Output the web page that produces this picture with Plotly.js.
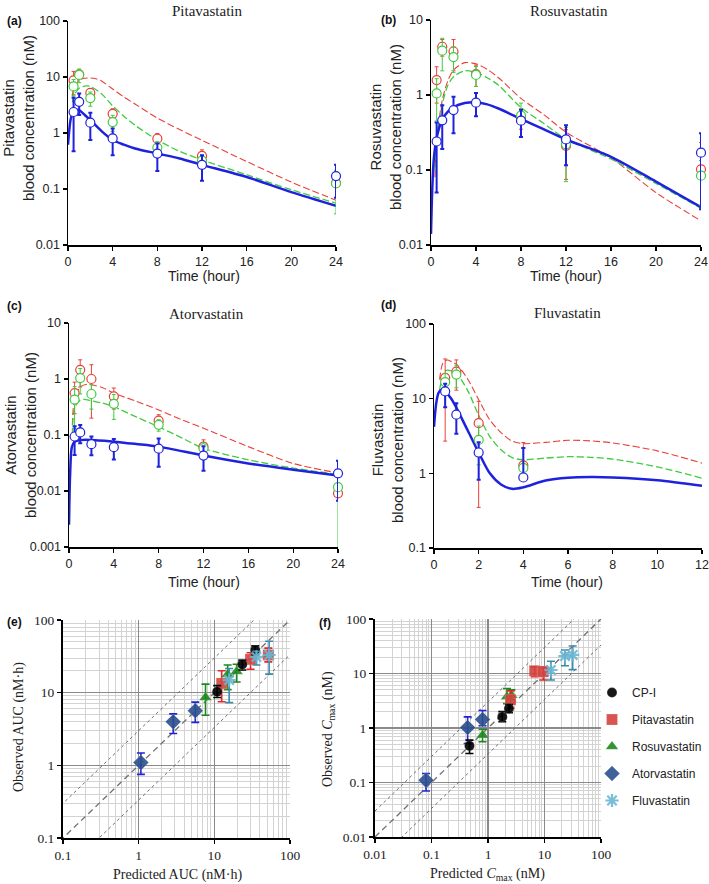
<!DOCTYPE html>
<html><head><meta charset="utf-8">
<script src="https://cdn.plot.ly/plotly-3.0.1.min.js"></script>
<style>html,body{margin:0;padding:0;background:#fff;overflow:hidden;width:709px;height:884px}#chart{width:709px;height:884px;overflow:hidden}</style>
</head><body><div id="chart"></div>
<script>
// ---------- (a) Pitavastatin ----------
const pitaT = [0.5, 1, 2, 4, 8, 12, 24];
const pitaRedObs = [8.7, 11.2, 5.2, 2.2, 0.79, 0.39, 0.128];
const pitaRedSd = [3.9, 1.6, 1.0, 0.5, 0.19, 0.11, 0];
const pitaGreenObs = [6.8, 10.9, 4.2, 1.57, 0.55, 0.32, 0.126];
const pitaGreenSd = [2.2, 3.0, 1.2, 0.5, 0.15, 0.08, 0.09];
const pitaBlueObs = [2.37, 3.6, 1.53, 0.80, 0.43, 0.27, 0.17];
const pitaBlueSd = [1.9, 1.5, 0.78, 0.4, 0.22, 0.13, 0.1];
const pitaRedCurveT = [0.4, 0.5, 1, 1.5, 2, 2.5, 3, 4, 5, 6, 8, 10, 12, 16, 20, 24];
const pitaRedCurve = [4.5, 6.3, 8.8, 9.5, 9.6, 9.3, 8.5, 6.1, 4.4, 3.3, 1.85, 1.15, 0.74, 0.31, 0.133, 0.063];
const pitaGreenCurveT = [0.4, 0.5, 1, 1.5, 2, 3, 4, 5, 6, 8, 10, 12, 16, 20, 24];
const pitaGreenCurve = [3.5, 4.5, 6.3, 6.9, 6.8, 5.0, 3.05, 2.0, 1.38, 0.75, 0.47, 0.33, 0.18, 0.097, 0.056];
const pitaBlueCurveT = [0, 0.25, 0.5, 0.75, 1, 1.5, 2, 3, 4, 5, 6, 8, 10, 12, 16, 20, 24];
const pitaBlueCurve = [0.62, 1.8, 2.45, 2.6, 2.55, 2.1, 1.7, 1.08, 0.75, 0.62, 0.53, 0.43, 0.35, 0.27, 0.164, 0.088, 0.05];

// ---------- (b) Rosuvastatin ----------
const rosuT = [0.5, 1, 2, 4, 8, 12, 24];
const rosuRedObs = [1.58, 4.4, 3.8, 1.9, 0.5, 0.21, 0.102];
const rosuRedSd = [0.8, 1.1, 1.7, 0.6, 0.15, 0.135, 0.13];
const rosuRedSdMinus = [0.8, 1.1, 1.7, 0.6, 0.15, 0.135, 0.02];
const rosuGreenObs = [1.05, 3.9, 3.2, 1.85, 0.53, 0.22, 0.084];
const rosuGreenSd = [0.6, 1.8, 1.2, 0.55, 0.25, 0.15, 0.05];
const rosuBlueObs = [0.24, 0.46, 0.63, 0.79, 0.455, 0.256, 0.17];
const rosuBlueSd = [0.19, 0.27, 0.32, 0.27, 0.18, 0.14, 0.14];
const rosuRedCurveT = [0.35, 0.5, 1, 1.5, 2, 3, 4, 5, 6, 8, 10, 12, 16, 20, 24];
const rosuRedCurve = [0.08, 0.25, 0.85, 1.55, 2.15, 2.7, 2.6, 2.2, 1.7, 0.9, 0.55, 0.32, 0.145, 0.05, 0.021];
const rosuGreenCurveT = [0.35, 0.5, 1, 1.5, 2, 3, 4, 5, 6, 8, 10, 12, 16, 20, 24];
const rosuGreenCurve = [0.1, 0.25, 0.75, 1.35, 1.75, 2.1, 2.0, 1.7, 1.35, 0.68, 0.42, 0.26, 0.14, 0.066, 0.031];
const rosuBlueCurveT = [0, 0.1, 0.25, 0.5, 1, 1.5, 2, 3, 4, 5, 6, 8, 10, 12, 16, 20, 24];
const rosuBlueCurve = [0.014, 0.05, 0.14, 0.27, 0.47, 0.6, 0.69, 0.78, 0.8, 0.75, 0.66, 0.48, 0.35, 0.255, 0.15, 0.07, 0.032];

// ---------- (c) Atorvastatin ----------
const atorT = [0.5, 1, 2, 4, 8, 12, 24];
const atorRedObs = [0.56, 1.46, 1.0, 0.49, 0.18, 0.062, 0.0091];
const atorRedSd = [0.32, 0.74, 0.8, 0.2, 0.05, 0.02, 0];
const atorGreenObs = [0.43, 1.04, 0.54, 0.36, 0.152, 0.058, 0.0117];
const atorGreenSd = [0.3, 0.5, 0.25, 0.17, 0.035, 0.015, 0.0113];
const atorGreenSdMinus = [0.3, 0.5, 0.25, 0.17, 0.035, 0.015, 0.01124];
const atorBlueObs = [0.094, 0.111, 0.0686, 0.0605, 0.057, 0.043, 0.0207];
const atorBlueSd = [0.05, 0.04, 0.025, 0.024, 0.03, 0.02, 0.014];
const atorRedCurveT = [0.3, 0.5, 1, 1.5, 2, 3, 4, 6, 8, 10, 12, 16, 20, 24];
const atorRedCurve = [0.15, 0.45, 0.72, 0.8, 0.79, 0.7, 0.56, 0.4, 0.28, 0.19, 0.132, 0.062, 0.031, 0.021];
const atorGreenCurveT = [0.3, 0.5, 1, 1.5, 2, 3, 4, 6, 8, 10, 12, 16, 20, 24];
const atorGreenCurve = [0.1, 0.3, 0.42, 0.43, 0.41, 0.37, 0.32, 0.21, 0.14, 0.09, 0.058, 0.036, 0.0257, 0.0198];
const atorBlueCurveT = [0, 0.1, 0.25, 0.5, 1, 1.5, 2, 4, 6, 8, 12, 16, 20, 24];
const atorBlueCurve = [0.0025, 0.02, 0.06, 0.076, 0.081, 0.082, 0.081, 0.076, 0.069, 0.062, 0.043, 0.031, 0.024, 0.019];

// ---------- (d) Fluvastatin ----------
const fluvT = [0.5, 1, 2, 4];
const fluvRedObs = [19, 23, 4.7, 1.28];
const fluvRedSd = [15, 10, 4.5, 1.3];
const fluvRedSdMinus = [16.3, 10, 4.35, 0];
const fluvGreenObs = [16.7, 21, 2.8, 1.18];
const fluvGreenSd = [5, 7, 1.5, 1];
const fluvGreenSdMinus = [5, 7, 1.5, 0];
const fluvBlueObs = [12.5, 6.1, 1.9, 0.88];
const fluvBlueSd = [3.3, 2.6, 0.7, 1.3];
const fluvBlueSdMinus = [4.8, 2.7, 1.08, 0];
const fluvRedCurveT = [0.25, 0.4, 0.6, 0.8, 1, 1.5, 2, 2.5, 3, 3.5, 4, 5, 6, 7, 8, 10, 12];
const fluvRedCurve = [18, 30, 33, 31, 29, 18.5, 9.7, 5.2, 3.5, 2.7, 2.5, 2.6, 2.77, 2.72, 2.55, 2.0, 1.37];
const fluvGreenCurveT = [0.25, 0.4, 0.55, 0.8, 1, 1.5, 2, 2.5, 3, 3.5, 4, 5, 6, 7, 8, 10, 12];
const fluvGreenCurve = [13, 21, 24, 23.5, 22, 13, 6.0, 3.1, 2.07, 1.62, 1.52, 1.6, 1.67, 1.64, 1.55, 1.22, 0.86];
const fluvBlueCurveT = [0, 0.1, 0.2, 0.3, 0.5, 0.75, 1, 1.5, 2, 2.5, 3, 3.5, 4, 5, 6, 7, 8, 10, 12];
const fluvBlueCurve = [4.2, 8.7, 11.9, 13.0, 12.5, 10.2, 7.6, 3.8, 1.9, 1.0, 0.71, 0.62, 0.65, 0.8, 0.87, 0.89, 0.88, 0.81, 0.68];

// ---------- (e)/(f) predicted vs observed ----------
const seriesNames = ['CP-I', 'Pitavastatin', 'Rosuvastatin', 'Atorvastatin', 'Fluvastatin'];
const aucPred = [[10.9, 23.4, 34.7], [12.5, 30.1, 51.7], [7.65, 15, 19.7], [1.07, 2.86, 5.6], [15.7, 36, 53]];
const aucObs  = [[10.3, 24.5, 38.6], [13.4, 28.7, 33], [8.6, 17.8, 19.6], [1.09, 3.97, 5.63], [14.9, 31, 33]];
const aucHi   = [[12.5, 28, 44], [20, 35.5, 41], [13.1, 24, 24.6], [1.48, 5.1, 7.4], [21.5, 37, 51]];
const aucLo   = [[8.6, 20.5, 33], [7.5, 21, 26.5], [4.9, 11, 14], [0.75, 2.74, 3.9], [7.3, 24, 18]];
const cmaxPred = [[0.47, 1.79, 2.35], [2.5, 6.7, 9.5], [0.8, 2.17, 2.6], [0.08, 0.436, 0.8], [13, 23, 31.5]];
const cmaxObs  = [[0.47, 1.6, 2.28], [3.3, 11.2, 10.8], [0.74, 3.74, 4.0], [0.11, 1.02, 1.43], [11.6, 20.9, 21.9]];
const cmaxHi   = [[0.6, 2.0, 2.7], [4.8, 13.3, 13.3], [0.95, 5.3, 5.0], [0.146, 1.6, 2.1], [16.8, 27, 32]];
const cmaxLo   = [[0.34, 1.3, 1.9], [2.3, 8.7, 7.6], [0.56, 2.8, 3.3], [0.07, 0.52, 1.1], [7.6, 13.9, 11.8]];
const refEnds = [0.01, 100];
const foldRange = 3;

const timeTicks24 = [0, 4, 8, 12, 16, 20, 24];
const timeTicks12 = [0, 2, 4, 6, 8, 10, 12];
const logTickVals = [0.001, 0.01, 0.1, 1, 10, 100];
const logTickText = ['0.001', '0.01', '0.1', '1', '10', '100'];

// ---------- styling ----------
const SANS = 'Liberation Sans, Arial, sans-serif';
const SERIF = 'Liberation Serif, Times New Roman, serif';
const RED = '#e8403a', GREEN = '#3fcc3f', BLUE = '#1f22dd';
const markColors = ['#000000', '#d4433f', '#1a8a1a', '#2b4f8e', '#6ab6d3'];
const barColors  = ['#000000', '#e02828', '#1a8a1a', '#2323d6', '#3b8bad'];
const symbols = ['circle', 'square', 'triangle-up', 'diamond', 'asterisk-open'];
const msizes = [10, 11, 11, 12, 11];
const W = 709, H = 884;

const traces = [];
function curve(xa, ya, t, v, color, width, dash) {
  traces.push({x: t, y: v, xaxis: xa, yaxis: ya, type: 'scatter', mode: 'lines', showlegend: false,
    hoverinfo: 'skip', line: {color, width, dash, shape: 'spline', smoothing: 0.8}});
}
function obs(xa, ya, t, v, sd, sdm, color, lw, thick) {
  traces.push({x: t, y: v, xaxis: xa, yaxis: ya, type: 'scatter', mode: 'markers', showlegend: false, cliponaxis: false,
    marker: {symbol: 'circle', size: 9, color: '#ffffff', line: {color, width: lw}},
    error_y: {type: 'data', array: sd, arrayminus: sdm || sd, color, thickness: thick, width: 2}});
}
function pkPanel(xa, ya, data) {
  curve(xa, ya, data[0], data[1], RED, 1.1, '7px,3px');
  curve(xa, ya, data[2], data[3], GREEN, 1.3, '7px,3px');
  curve(xa, ya, data[4], data[5], BLUE, 2.5, 'solid');
}
pkPanel('x', 'y', [pitaRedCurveT, pitaRedCurve, pitaGreenCurveT, pitaGreenCurve, pitaBlueCurveT, pitaBlueCurve]);
obs('x', 'y', pitaT, pitaRedObs, pitaRedSd, null, RED, 1.2, 1);
obs('x', 'y', pitaT, pitaGreenObs, pitaGreenSd, null, GREEN, 1.2, 1);
obs('x', 'y', pitaT, pitaBlueObs, pitaBlueSd, null, BLUE, 1.2, 2);

pkPanel('x2', 'y2', [rosuRedCurveT, rosuRedCurve, rosuGreenCurveT, rosuGreenCurve, rosuBlueCurveT, rosuBlueCurve]);
obs('x2', 'y2', rosuT, rosuRedObs, rosuRedSd, rosuRedSdMinus, RED, 1.2, 1);
obs('x2', 'y2', rosuT, rosuGreenObs, rosuGreenSd, null, GREEN, 1.2, 1);
obs('x2', 'y2', rosuT, rosuBlueObs, rosuBlueSd, null, BLUE, 1.2, 2);

pkPanel('x3', 'y3', [atorRedCurveT, atorRedCurve, atorGreenCurveT, atorGreenCurve, atorBlueCurveT, atorBlueCurve]);
obs('x3', 'y3', atorT, atorRedObs, atorRedSd, null, RED, 1.2, 1);
obs('x3', 'y3', atorT, atorGreenObs, atorGreenSd, atorGreenSdMinus, GREEN, 1.2, 1);
obs('x3', 'y3', atorT, atorBlueObs, atorBlueSd, null, BLUE, 1.2, 2);

pkPanel('x4', 'y4', [fluvRedCurveT, fluvRedCurve, fluvGreenCurveT, fluvGreenCurve, fluvBlueCurveT, fluvBlueCurve]);
obs('x4', 'y4', fluvT, fluvRedObs, fluvRedSd, fluvRedSdMinus, RED, 1.2, 1);
obs('x4', 'y4', fluvT, fluvGreenObs, fluvGreenSd, fluvGreenSdMinus, GREEN, 1.2, 1);
obs('x4', 'y4', fluvT, fluvBlueObs, fluvBlueSd, fluvBlueSdMinus, BLUE, 1.2, 2);

// reference lines for (e),(f)
function refLines(xa, ya) {
  traces.push({x: refEnds, y: refEnds, xaxis: xa, yaxis: ya, mode: 'lines', showlegend: false, hoverinfo: 'skip',
    line: {color: '#707070', width: 1.3, dash: '6px,4px'}});
  traces.push({x: refEnds, y: refEnds.map(v => v * foldRange), xaxis: xa, yaxis: ya, mode: 'lines', showlegend: false, hoverinfo: 'skip',
    line: {color: '#707070', width: 1, dash: 'dot'}});
  traces.push({x: refEnds, y: refEnds.map(v => v / foldRange), xaxis: xa, yaxis: ya, mode: 'lines', showlegend: false, hoverinfo: 'skip',
    line: {color: '#707070', width: 1, dash: 'dot'}});
}
refLines('x5', 'y5');
refLines('x6', 'y6');
const drawOrder = [3, 2, 1, 0, 4];
function ddi(xa, ya, pred, obsv, hi, lo, legend) {
  drawOrder.forEach(i => {
    traces.push({x: pred[i], y: obsv[i], xaxis: xa, yaxis: ya, type: 'scatter', mode: 'markers',
      name: seriesNames[i], showlegend: legend, legendrank: i + 1, legendgroup: seriesNames[i], cliponaxis: false,
      marker: {symbol: symbols[i], size: msizes[i], color: markColors[i], opacity: 0.9,
        line: {color: i === 4 ? markColors[i] : 'rgba(255,255,255,0.4)', width: i === 4 ? 2.2 : 0.5}},
      error_y: {type: 'data', array: hi[i].map((h, k) => h - obsv[i][k]), arrayminus: lo[i].map((l, k) => obsv[i][k] - l),
        color: barColors[i], thickness: 1.6, width: 4}});
  });
}
ddi('x5', 'y5', aucPred, aucObs, aucHi, aucLo, false);
ddi('x6', 'y6', cmaxPred, cmaxObs, cmaxHi, cmaxLo, true);

// ---------- layout ----------
const dx = (a, b) => [a / W, b / W];
const dy = (top, bot) => [1 - bot / H, 1 - top / H];
function pkXAxis(anchor, domain, range, ticks) {
  return {anchor, domain, range, type: 'linear', tickvals: ticks, ticktext: ticks.map(String), showline: true,
    linecolor: '#000', linewidth: 1.5, ticks: 'outside', ticklen: 4, tickwidth: 1.2, tickcolor: '#000',
    showgrid: false, zeroline: false, tickfont: {family: SANS, size: 12.5, color: '#222'}};
}
function pkYAxis(anchor, domain, lo, hi) {
  return {anchor, domain, type: 'log', range: [Math.log10(lo), Math.log10(hi)], tickvals: logTickVals, ticktext: logTickText,
    showline: true, linecolor: '#000', linewidth: 1.5, ticks: 'outside', ticklen: 4, tickwidth: 1.2, tickcolor: '#000',
    showgrid: false, zeroline: false, tickfont: {family: SANS, size: 12.5, color: '#222'}};
}
function ddiAxis(anchor, domain, lo, hi) {
  return {anchor, domain, type: 'log', range: [Math.log10(lo), Math.log10(hi)], tickvals: logTickVals, ticktext: logTickText,
    showline: true, linecolor: '#000', linewidth: 2, ticks: 'outside', ticklen: 4, tickwidth: 1.2, tickcolor: '#000',
    showgrid: true, gridcolor: '#8a8a8a', gridwidth: 1.2, zeroline: false,
    minor: {dtick: 'D1', showgrid: true, gridcolor: '#d3d3d3', gridwidth: 1, ticks: ''},
    tickfont: {family: SERIF, size: 13.5, color: '#222'}};
}
function ann(text, x, y, font, extra) {
  return Object.assign({text, x: x / W, y: 1 - y / H, xref: 'paper', yref: 'paper', showarrow: false,
    xanchor: 'center', yanchor: 'middle', font}, extra || {});
}
const titleFont = {family: SERIF, size: 15, color: '#222'};
const letterFont = {family: SANS, size: 12, color: '#111', weight: 'bold'};
const axFont = {family: SANS, size: 14, color: '#222'};
const yFont = {family: SANS, size: 15, color: '#222'};
const serifAx = {family: SERIF, size: 14, color: '#222'};

const layout = {
  width: W, height: H, margin: {l: 0, r: 0, t: 0, b: 0}, paper_bgcolor: '#fff', plot_bgcolor: 'rgba(0,0,0,0)',
  showlegend: true,
  legend: {x: 592 / W, y: 1 - 678 / H, xanchor: 'left', yanchor: 'top', font: {family: SANS, size: 12, color: '#222'},
    tracegroupgap: 8, traceorder: 'grouped', bgcolor: 'rgba(0,0,0,0)', itemwidth: 30},
  xaxis: pkXAxis('y', dx(68, 336), [0, 24], timeTicks24),
  yaxis: pkYAxis('x', dy(21, 245), 0.01, 100),
  xaxis2: pkXAxis('y2', dx(431, 701), [0, 24], timeTicks24),
  yaxis2: pkYAxis('x2', dy(20, 245), 0.01, 10),
  xaxis3: pkXAxis('y3', dx(69, 338), [0, 24], timeTicks24),
  yaxis3: pkYAxis('x3', dy(323, 547), 0.001, 10),
  xaxis4: pkXAxis('y4', dx(434, 702), [0, 12], timeTicks12),
  yaxis4: pkYAxis('x4', dy(324, 548), 0.1, 100),
  xaxis5: ddiAxis('y5', dx(63, 290), 0.1, 100),
  yaxis5: ddiAxis('x5', dy(620, 838), 0.1, 100),
  xaxis6: ddiAxis('y6', dx(375, 601), 0.01, 100),
  yaxis6: ddiAxis('x6', dy(619, 837), 0.01, 100),
  annotations: [
    ann('Pitavastatin', 207, 11, titleFont),
    ann('Rosuvastatin', 569, 11, titleFont),
    ann('Atorvastatin', 206, 314, titleFont),
    ann('Fluvastatin', 567, 313, titleFont),
    ann('(a)', 15, 21, letterFont),
    ann('(b)', 388, 20, letterFont),
    ann('(c)', 15, 306, letterFont),
    ann('(d)', 388, 305, letterFont),
    ann('(e)', 15, 622, letterFont),
    ann('(f)', 325, 623, letterFont),
    ann('Time (hour)', 204, 276, axFont),
    ann('Time (hour)', 566, 276, axFont),
    ann('Time (hour)', 204, 582, axFont),
    ann('Time (hour)', 567, 582, axFont),
    ann('Pitavastatin<br>blood concentration (nM)', 19, 118, yFont, {textangle: -90}),
    ann('Rosuvastatin<br>blood concentration (nM)', 386, 127, yFont, {textangle: -90}),
    ann('Atorvastatin<br>blood concentration (nM)', 20, 435, yFont, {textangle: -90}),
    ann('Fluvastatin<br>blood concentration (nM)', 387, 440, yFont, {textangle: -90}),
    ann('Predicted AUC (nM·h)', 177, 875, serifAx),
    ann('Predicted <i>C</i><sub>max</sub> (nM)', 487, 874, serifAx),
    ann('Observed AUC (nM·h)', 19, 727, serifAx, {textangle: -90}),
    ann('Observed <i>C</i><sub>max</sub> (nM)', 328, 729, serifAx, {textangle: -90})
  ]
};
Plotly.newPlot('chart', traces, layout, {staticPlot: true, displayModeBar: false});
</script>
</body></html>
